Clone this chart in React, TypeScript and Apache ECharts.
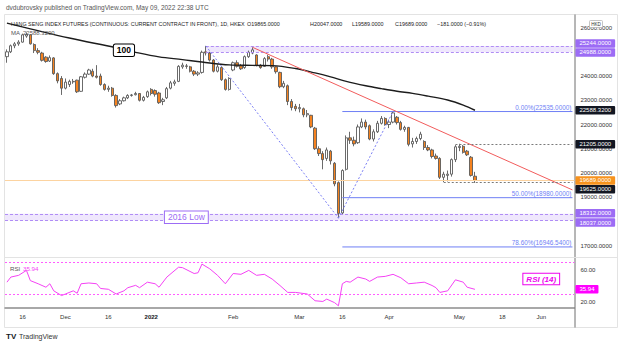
import React, { useEffect, useRef } from "react";
import * as echarts from "echarts";

const FONT = '"Liberation Sans", Arial, Helvetica, sans-serif';

// ---- categories (trading days, HKEX holidays skipped) ----
const holidays = [
  "2021-12-27", "2022-02-01", "2022-02-02", "2022-02-03",
  "2022-04-05", "2022-04-15", "2022-04-18", "2022-05-02",
];
function tradingDates(start: string, end: string): string[] {
  const out: string[] = [];
  const d = new Date(start + "T00:00:00Z");
  const e = new Date(end + "T00:00:00Z").getTime();
  while (d.getTime() <= e) {
    const wd = d.getUTCDay();
    const s = d.toISOString().slice(0, 10);
    if (wd !== 0 && wd !== 6 && holidays.indexOf(s) < 0) out.push(s);
    d.setUTCDate(d.getUTCDate() + 1);
  }
  return out;
}
const dates = tradingDates("2021-11-10", "2022-06-13");
const lastDate = dates[dates.length - 1];

// ---- time axis tick labels ----
const tickDates = ["2021-11-16", "2021-12-01", "2021-12-16", "2022-01-03", "2022-02-04", "2022-03-01", "2022-03-16", "2022-04-01", "2022-05-03", "2022-05-18", "2022-06-01"];
const tickTexts = ["16", "Dec", "16", "2022", "Feb", "Mar", "16", "Apr", "May", "18", "Jun"];

// ---- price / rsi ticks ----
const priceTicks = [17000, 18000, 19000, 20000, 21000, 22000, 23000, 24000, 25000, 26000];
const rsiTicks = [20, 60];

// ---- daily candles [open, high, low, close] ----
const candles: number[][] = [
  [24800, 25100, 24550, 25000], [25000, 25300, 24950, 25250], [25250, 25400, 25150, 25330], [25330, 25480, 25250, 25400],
  [25400, 25750, 25380, 25700], [25650, 25800, 25580, 25720], [25700, 25720, 25300, 25330], [25300, 25350, 24950, 25050],
  [25050, 25150, 24900, 24980], [24950, 25000, 24600, 24650], [24780, 24820, 24550, 24600], [24620, 24850, 24580, 24760],
  [24750, 24780, 24050, 24100], [24100, 24150, 23700, 23800], [23900, 24000, 23220, 23500], [23500, 23900, 23450, 23750],
  [23650, 23850, 23550, 23780], [23780, 23880, 23680, 23760], [23830, 23850, 23300, 23350], [23370, 24000, 23350, 23970],
  [23950, 24150, 23900, 24080], [24080, 24300, 24050, 24250], [24200, 24300, 23950, 24000], [24000, 24450, 23900, 23950],
  [24000, 24100, 23600, 23650], [23650, 23700, 23400, 23450], [23450, 23600, 23350, 23500], [23500, 23550, 23150, 23200],
  [23200, 23250, 22700, 22780], [22850, 23050, 22800, 22980], [22980, 23150, 22950, 23100], [23100, 23250, 23050, 23200],
  [23200, 23260, 23150, 23220], [23230, 23350, 23200, 23280], [23280, 23300, 22950, 23000], [23000, 23180, 22950, 23120],
  [23150, 23400, 23100, 23350], [23450, 23500, 23200, 23280], [23400, 23450, 23150, 23250], [23300, 23350, 22850, 22900],
  [22950, 23100, 22800, 23020], [23100, 23550, 23050, 23480], [23500, 23800, 23450, 23720], [23700, 23850, 23600, 23760],
  [23780, 24450, 23750, 24400], [24380, 24550, 24300, 24450], [24420, 24500, 24300, 24400], [24380, 24420, 24150, 24200],
  [24200, 24250, 24000, 24080], [24080, 24200, 24000, 24130], [24150, 25050, 24100, 24980], [25000, 25244, 24850, 24950],
  [24950, 25000, 24600, 24660], [24660, 24700, 24150, 24200], [24200, 24480, 24150, 24380], [24350, 24400, 23800, 23850],
  [23850, 23900, 23400, 23450], [23450, 23950, 23400, 23900], [24250, 24600, 24200, 24550], [24550, 24650, 24350, 24400],
  [24420, 24500, 24250, 24300], [24350, 24850, 24300, 24800], [24800, 25050, 24750, 24980], [24950, 25184, 24900, 25080],
  [24870, 24900, 24400, 24450], [24450, 24500, 24300, 24350], [24400, 24780, 24380, 24720], [24800, 24880, 24600, 24700],
  [24700, 24750, 24300, 24380], [24380, 24400, 24100, 24180], [24150, 24180, 23500, 23560], [23560, 23800, 23500, 23700],
  [23600, 23650, 22800, 22950], [22950, 23050, 22580, 22700], [22750, 22850, 22550, 22650], [22650, 22850, 22500, 22700],
  [22650, 22700, 22300, 22400], [22400, 22600, 22300, 22450], [22380, 22400, 21850, 21900], [21850, 21900, 20950, 21000],
  [21000, 21100, 20700, 20800], [20800, 20900, 20150, 20550], [20600, 21050, 20500, 20950], [20900, 20950, 20350, 20500],
  [20400, 20450, 19450, 19550], [19600, 19650, 18134, 18330], [18350, 20150, 18300, 20100], [20150, 21550, 20100, 21450],
  [21450, 21700, 21200, 21350], [21350, 21500, 21100, 21200], [21250, 22000, 21200, 21900], [21900, 22250, 21850, 22100],
  [22100, 22200, 21800, 21900], [21950, 22000, 21350, 21400], [21400, 21800, 21300, 21700], [21700, 22150, 21650, 22050],
  [22050, 22350, 22000, 22250], [22250, 22300, 21950, 22000], [22000, 22200, 21850, 22100], [22100, 22535, 22050, 22480],
  [22300, 22350, 22000, 22080], [22080, 22150, 21750, 21800], [21800, 21950, 21700, 21880], [21880, 21900, 21100, 21180],
  [21200, 21450, 21050, 21300], [21300, 21500, 21200, 21420], [21420, 21700, 21350, 21600], [21300, 21350, 20950, 21050],
  [21050, 21150, 20900, 20950], [20950, 21000, 20600, 20680], [20700, 20800, 20550, 20600], [20600, 20650, 19750, 19820],
  [19820, 20050, 19625, 19950], [19900, 20100, 19650, 19950], [19950, 20600, 19850, 20550], [20550, 21150, 20450, 21080],
  [21050, 21205, 20900, 21100], [21100, 21150, 20800, 20850], [20900, 20950, 20700, 20750], [20650, 20700, 19850, 19900],
  [19865, 20047, 19589, 19689],
];

// ---- 100-day moving average (read points) ----
const maIdx = [0, 6, 16, 28, 33, 39, 45, 50, 57, 63, 68, 74, 79, 83, 87, 92, 96, 100, 104, 108, 113, 117, 120];
const maVal = [26186, 25950, 25570, 25170, 24980, 24790, 24680, 24580, 24460, 24440, 24430, 24310, 24130, 23965, 23780, 23600, 23480, 23370, 23285, 23170, 23010, 22800, 22588.32];

// ---- RSI(14) (read points) ----
const rsiIdx = [0, 1, 3, 5, 6, 8, 10, 11, 12, 14, 15, 17, 18, 19, 21, 23, 24, 26, 28, 30, 31, 33, 34, 36, 38, 39, 41, 44, 45, 48, 49, 50, 52, 54, 56, 58, 60, 62, 64, 66, 68, 70, 72, 74, 77, 79, 81, 82, 84, 85, 86, 87, 88, 90, 92, 93, 95, 97, 99, 101, 103, 105, 107, 109, 110, 111, 113, 115, 117, 118, 120];
const rsiVal = [45, 51.5, 53.7, 60, 47, 43, 38.6, 43, 34, 28, 30, 34, 31, 43, 44, 43, 37, 36, 30, 34, 38, 41, 38, 45, 43, 38.6, 51.5, 64, 63.5, 56, 57, 68, 62, 53.7, 43, 56, 55, 60, 53.7, 55, 49, 40.8, 32, 32, 30, 21.4, 20.5, 23.5, 19, 15, 43, 46, 45, 51.5, 49, 46, 51.5, 52.4, 55, 50.6, 43, 44, 45, 40.8, 38, 32, 34, 48, 45, 38.6, 35.94];
const rsiLevels = [70, 30];

// ---- drawings ----
const bandTop = [25244, 24988];
const bandTopStart = "2022-01-21";
const bandLow = [18312, 18037];
const trendDates = ["2022-02-11", lastDate];
const trendValues = [25184, 19300];
const swingDates = ["2022-01-21", "2022-03-15", "2022-04-04"];
const swingValues = [25244, 18134, 22535];
const fibStart = "2022-03-16";
const fibLevels = [22535, 18980, 16946.54];
const fibNames = ["0.00%", "50.00%", "78.60%"];
const rayDates = ["2022-04-29", "2022-04-26"];
const rayValues = [21205, 19625];
const lastPrice = 19689;
const maLast = 22588.32;
const rsiLast = 35.94;

const badgeValues = [25244, 24988, 22588.32, 21205, 19689, 19625, 18312, 18037];
const badgeColors = ["#9c6cf5", "#9c6cf5", "#131722", "#131722", "#f7931e", "#131722", "#9c6cf5", "#9c6cf5"];
const badgeShift = [-2.5, 0.3, 0, 0.5, 0, 7.3, -0.6, 2];

const FIB_COLOR = "#6f7ff5";

export default function App() {
  const ref = useRef<HTMLDivElement>(null);
  useEffect(() => {
    const chart = echarts.init(ref.current!, null, { renderer: "svg" });
    const tickMap: Record<string, string> = {};
    tickDates.forEach((d, k) => (tickMap[d] = tickTexts[k]));

    const candleData = candles.map(([o, h, l, c]) => [o, c, l, h]);
    const maData = maIdx.map((i, k) => [dates[i], maVal[k]]);
    const rsiData = rsiIdx.map((i, k) => [dates[i], rsiVal[k]]);

    const purpleDash = { color: "#b08df5", type: [3, 2], width: 1 };
    const blueDot = { color: "#7b7ff5", type: [2, 2], width: 1 };
    const grayDash = { color: "#7a7a7a", type: [2, 2], width: 1 };

    const seg = (d0: string, v0: number, d1: string, v1: number, style: any) => [
      { coord: [d0, v0], lineStyle: style },
      { coord: [d1, v1], lineStyle: style },
    ];

    const lineMarks: any[] = [
      seg(bandTopStart, bandTop[0], lastDate, bandTop[0], purpleDash),
      seg(bandTopStart, bandTop[1], lastDate, bandTop[1], purpleDash),
      { yAxis: bandLow[0], lineStyle: purpleDash },
      { yAxis: bandLow[1], lineStyle: purpleDash },
      { yAxis: lastPrice, lineStyle: { color: "#fcd3a0", type: "solid", width: 1 } },
      seg(trendDates[0], trendValues[0], trendDates[1], trendValues[1], { color: "#f25c5c", type: "solid", width: 1 }),
      seg(swingDates[0], swingValues[0], swingDates[1], swingValues[1], blueDot),
      seg(swingDates[1], swingValues[1], swingDates[2], swingValues[2], blueDot),
      ...rayDates.map((d, k) => seg(d, rayValues[k], lastDate, rayValues[k], grayDash)),
    ];

    const badgePoints: any[] = badgeValues.map((v, k) => ({
      coord: [lastDate, v],
      label: {
        show: true,
        position: "right",
        distance: 3,
        offset: [0, badgeShift[k]],
        formatter: v.toFixed(4),
        backgroundColor: badgeColors[k],
        color: "#ffffff",
        fontSize: 6,
        fontFamily: FONT,
        padding: [1.5, 4, 1, 4],
        borderRadius: 1,
      },
    }));
    badgePoints.push({
      coord: [dates[46], 18175],
      label: {
        show: true,
        position: "inside",
        formatter: "2016 Low",
        color: "#9c6cf5",
        backgroundColor: "#ffffff",
        borderColor: "#9c6cf5",
        borderWidth: 1,
        padding: [1.5, 3, 1, 3],
        fontSize: 8.5,
        fontFamily: FONT,
      },
    });

    const fibSeries = fibLevels.map((v, k) => ({
      type: "line",
      name: "fib" + k,
      xAxisIndex: 0, yAxisIndex: 0,
      data: [[fibStart, v], [lastDate, v]],
      showSymbol: false,
      symbol: "none",
      silent: true,
      z: 3,
      clip: false,
      color: FIB_COLOR,
      lineStyle: { color: FIB_COLOR, width: 1, type: "solid" },
      markPoint: {
        silent: true,
        symbol: "rect",
        symbolSize: 0,
        data: [
          {
            coord: [lastDate, v],
            label: {
              show: true,
              position: "left",
              distance: 1,
              offset: [0, -4.5],
              formatter: `${fibNames[k]}(${v.toFixed(4)})`,
              color: FIB_COLOR,
              fontSize: 6.4,
              fontFamily: FONT,
            },
          },
        ],
      },
    }));

    const option: any = {
      animation: false,
      backgroundColor: "#ffffff",
      textStyle: { fontFamily: FONT },
      grid: [
        { left: 5, width: 569.4, top: 15, height: 243 },
        { left: 5, width: 569.4, top: 257, height: 51 },
      ],
      xAxis: [
        {
          type: "category", gridIndex: 0, data: dates, boundaryGap: true,
          axisLine: { show: false }, axisTick: { show: false }, axisLabel: { show: false }, splitLine: { show: false },
        },
        {
          type: "category", gridIndex: 1, data: dates, boundaryGap: true,
          axisLine: { show: true, lineStyle: { color: "#8c8c8c", width: 1.5 } },
          axisTick: { show: false },
          splitLine: { show: false },
          axisLabel: {
            interval: (_i: number, v: string) => tickMap[v] !== undefined,
            formatter: (v: string) => (tickMap[v] === "2022" ? "{b|2022}" : tickMap[v] || ""),
            fontSize: 6,
            color: "#333333",
            margin: 6,
            fontFamily: FONT,
            hideOverlap: false,
            rich: { b: { fontWeight: "bold", fontSize: 6, color: "#131722", fontFamily: FONT } },
          },
        },
      ],
      yAxis: [
        {
          type: "value", gridIndex: 0, position: "right", min: 16490, max: 26520, scale: true,
          axisLine: { show: false }, axisTick: { show: false }, splitLine: { show: false },
          axisLabel: {
            customValues: priceTicks,
            formatter: (v: number) => v.toFixed(4),
            fontSize: 6, color: "#333333", margin: 6, fontFamily: FONT,
          },
        },
        {
          type: "value", gridIndex: 1, position: "right", min: 12.2, max: 77,
          axisLine: { show: false }, axisTick: { show: false }, splitLine: { show: false },
          axisLabel: {
            customValues: rsiTicks,
            formatter: (v: number) => v.toFixed(2),
            fontSize: 6, color: "#333333", margin: 6, fontFamily: FONT,
          },
        },
      ],
      series: [
        {
          type: "candlestick",
          xAxisIndex: 0, yAxisIndex: 0,
          data: candleData,
          barWidth: 2.8,
          clip: false,
          z: 2,
          itemStyle: {
            color: "#ffffff", color0: "#f5821f",
            borderColor: "#5a5a5a", borderColor0: "#5a5a5a", borderWidth: 0.9,
          },
          markArea: {
            silent: true,
            itemStyle: { color: "rgba(176,136,246,0.2)" },
            data: [
              [{ coord: [bandTopStart, bandTop[0]] }, { coord: [lastDate, bandTop[1]] }],
              [{ yAxis: bandLow[0] }, { yAxis: bandLow[1] }],
            ],
          },
          markLine: {
            silent: true,
            symbol: ["none", "none"],
            label: { show: false },
            data: lineMarks,
          },
          markPoint: {
            silent: true,
            symbol: "rect",
            symbolSize: 0,
            data: badgePoints,
          },
        },
        ...fibSeries,
        {
          type: "line",
          name: "MA",
          xAxisIndex: 0, yAxisIndex: 0,
          data: maData,
          smooth: 0.35,
          showSymbol: false,
          symbol: "none",
          z: 4,
          clip: false,
          lineStyle: { color: "#1c1c1c", width: 1.4 },
          markPoint: {
            silent: true,
            symbol: "rect",
            symbolSize: 0,
            data: [
              {
                coord: [dates[30], 25070],
                label: {
                  show: true, position: "inside", formatter: "100",
                  color: "#000000", fontWeight: "bold", fontSize: 8.5, fontFamily: FONT,
                  backgroundColor: "#ffffff", borderColor: "#000000", borderWidth: 1,
                  padding: [1.5, 3, 1, 3], borderRadius: 1.5,
                },
              },
            ],
          },
        },
        {
          type: "line",
          name: "RSI",
          xAxisIndex: 1, yAxisIndex: 1,
          data: rsiData,
          showSymbol: false,
          symbol: "none",
          clip: false,
          lineStyle: { color: "#f542f5", width: 1 },
          markLine: {
            silent: true,
            symbol: ["none", "none"],
            label: { show: false },
            lineStyle: { color: "#ff5cff", type: [2, 2], width: 1 },
            data: rsiLevels.map((v) => ({ yAxis: v })),
          },
          markPoint: {
            silent: true,
            symbol: "rect",
            symbolSize: 0,
            data: [
              {
                coord: [lastDate, rsiLast],
                label: {
                  show: true, position: "right", distance: 3, formatter: rsiLast.toFixed(2),
                  backgroundColor: "#ff00ff", color: "#ffffff", fontSize: 6, fontFamily: FONT,
                  padding: [1.5, 4, 1, 4], borderRadius: 1,
                },
              },
              {
                coord: [dates[137], 49],
                label: {
                  show: true, position: "inside", formatter: "RSI (14)",
                  color: "#ee00ee", fontStyle: "italic", fontWeight: "bold", fontSize: 8, fontFamily: FONT,
                  backgroundColor: "#ffffff", borderColor: "#ee00ee", borderWidth: 1,
                  padding: [1.5, 3, 1, 3],
                },
              },
            ],
          },
        },
      ],
      graphic: [
        { type: "rect", z: -1, shape: { x: 4.5, y: 14.5, width: 613, height: 313 }, style: { fill: "none", stroke: "#e3e3e3", lineWidth: 1 } },
        { type: "line", z: 1, shape: { x1: 575, y1: 14.5, x2: 575, y2: 327.5 }, style: { stroke: "#6e6e6e", lineWidth: 1 } },
        { type: "line", z: 1, shape: { x1: 4.5, y1: 257.5, x2: 617.5, y2: 257.5 }, style: { stroke: "#e3e3e3", lineWidth: 1 } },
        {
          type: "text", x: 6, y: 7,
          style: { text: "dvdubrovsky published on TradingView.com, May 09, 2022 22:38 UTC", fontSize: 6.5, fontFamily: FONT, fill: "#555555", verticalAlign: "middle" },
        },
        {
          type: "text", x: 11, y: 24, z: 10,
          style: { text: "HANG SENG INDEX FUTURES (CONTINUOUS: CURRENT CONTRACT IN FRONT), 1D, HKEX", fontSize: 5.4, fontFamily: FONT, fill: "#222222", verticalAlign: "middle" },
        },
        { type: "text", x: 247, y: 24, z: 10, style: { text: "O19865.0000", fontSize: 5.4, fontFamily: FONT, fill: "#222222", verticalAlign: "middle" } },
        { type: "text", x: 310, y: 24, z: 10, style: { text: "H20047.0000", fontSize: 5.4, fontFamily: FONT, fill: "#222222", verticalAlign: "middle" } },
        { type: "text", x: 352, y: 24, z: 10, style: { text: "L19589.0000", fontSize: 5.4, fontFamily: FONT, fill: "#222222", verticalAlign: "middle" } },
        { type: "text", x: 395, y: 24, z: 10, style: { text: "C19689.0000", fontSize: 5.4, fontFamily: FONT, fill: "#222222", verticalAlign: "middle" } },
        { type: "text", x: 437, y: 24, z: 10, style: { text: "\u2212181.0000 (\u22120.91%)", fontSize: 5.4, fontFamily: FONT, fill: "#222222", verticalAlign: "middle" } },
        { type: "text", x: 11, y: 33, z: 10, style: { text: "MA  " + maLast.toFixed(4), fontSize: 6, fontFamily: FONT, fill: "#555555", verticalAlign: "middle" } },
        { type: "text", x: 10, y: 268, z: 10, style: { text: "RSI", fontSize: 6.2, fontFamily: FONT, fill: "#555555", verticalAlign: "middle" } },
        { type: "text", x: 23, y: 268, z: 10, style: { text: rsiLast.toFixed(2), fontSize: 6.2, fontFamily: FONT, fill: "#f542f5", verticalAlign: "middle" } },
        { type: "rect", z: 10, shape: { x: 589.5, y: 20.5, width: 13, height: 7, r: 1 }, style: { fill: "#ffffff", stroke: "#b5b5b5", lineWidth: 0.8 } },
        { type: "text", x: 596, y: 24.2, z: 11, style: { text: "HKD", fontSize: 4.6, fontFamily: FONT, fill: "#333333", align: "center", verticalAlign: "middle" } },
        { type: "text", x: 6, y: 336, style: { text: "TV", fontSize: 8, fontWeight: 900, fontFamily: FONT, fill: "#131722", verticalAlign: "middle" } },
        { type: "text", x: 19, y: 336, style: { text: "TradingView", fontSize: 7, fontFamily: FONT, fill: "#333333", verticalAlign: "middle" } },
      ],
    };
    chart.setOption(option);
    return () => chart.dispose();
  }, []);
  return (
    <div
      ref={ref}
      style={{ position: "fixed", left: 0, top: 0, width: 623, height: 345, background: "#ffffff" }}
    />
  );
}
